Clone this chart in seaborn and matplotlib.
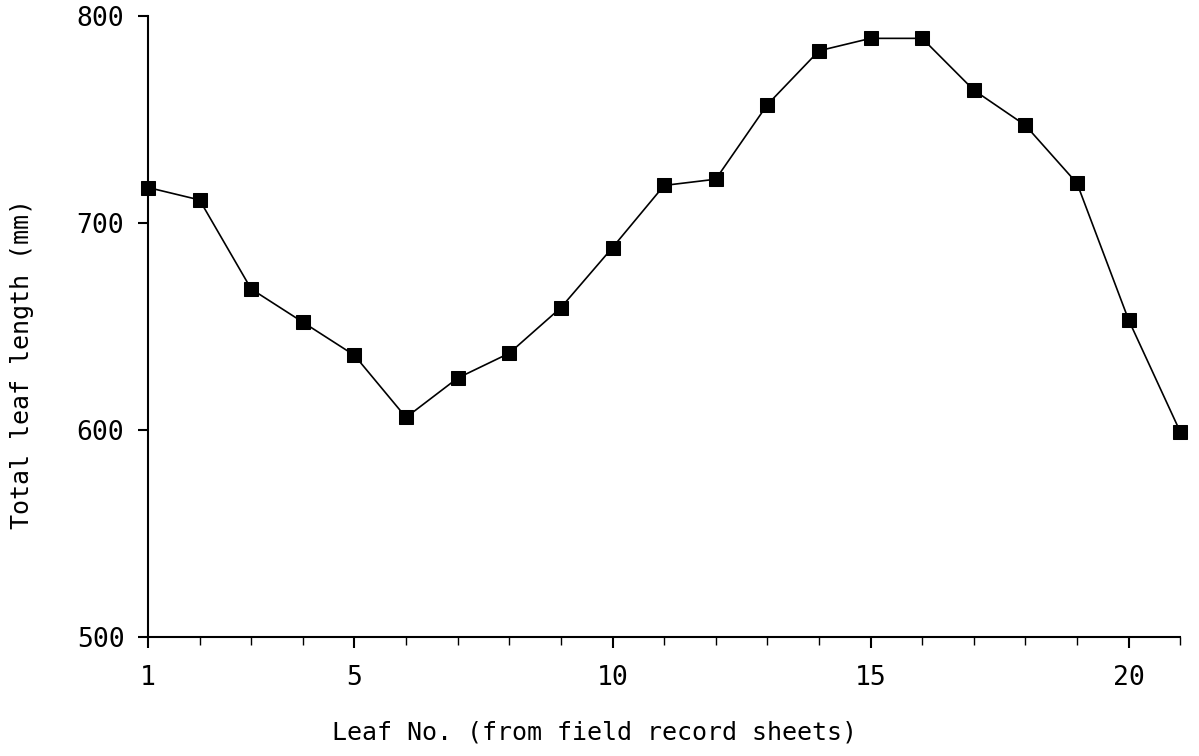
import matplotlib
matplotlib.use('Agg')
from matplotlib import pyplot as plt
from matplotlib.ticker import MultipleLocator
import pandas as pd
import seaborn as sns

# %% Data
leaf_no = list(range(1, 22))
leaf_length = [717, 711, 668, 652, 636, 606, 625, 637, 659, 688, 718, 721,
               757, 783, 789, 789, 764, 747, 719, 653, 599]
x_ticks = [1, 5, 10, 15, 20]
y_ticks = [500, 600, 700, 800]

df = pd.DataFrame({'leaf': leaf_no, 'length': leaf_length})

# %% Style
sns.set_style('ticks')
plt.rcParams['font.family'] = ['DejaVu Sans Mono', 'DejaVu Sans']
plt.rcParams['text.color'] = 'black'
plt.rcParams['axes.labelcolor'] = 'black'
plt.rcParams['xtick.color'] = 'black'
plt.rcParams['ytick.color'] = 'black'

fig = plt.figure(figsize=(11.99, 7.56), dpi=100)
ax = fig.add_axes([0.1234, 0.1574, 0.861, 0.822])

sns.lineplot(data=df, x='leaf', y='length', ax=ax, color='black',
             linewidth=1.2, marker='s', markersize=10, markeredgecolor='black',
             clip_on=False)

ax.set_xlim(1, 21)
ax.set_ylim(500, 800)
ax.set_xticks(x_ticks)
ax.xaxis.set_minor_locator(MultipleLocator(1))
ax.set_yticks(y_ticks)
ax.tick_params(axis='both', which='major', length=8, width=1.5,
               labelsize=19, pad=12)
ax.tick_params(axis='x', which='minor', length=6, width=1)
ax.tick_params(axis='y', which='major', length=7, pad=10)

sns.despine(ax=ax)
for side in ['left', 'bottom']:
    ax.spines[side].set_linewidth(1.5)
    ax.spines[side].set_color('black')

ax.set_xlabel('Leaf No. (from field record sheets)', fontsize=18)
ax.set_ylabel('Total leaf length (mm)', fontsize=18)
ax.xaxis.set_label_coords(0.433, -0.135)
ax.yaxis.set_label_coords(-0.11, 0.44)

fig.savefig('out.png', dpi=100)
